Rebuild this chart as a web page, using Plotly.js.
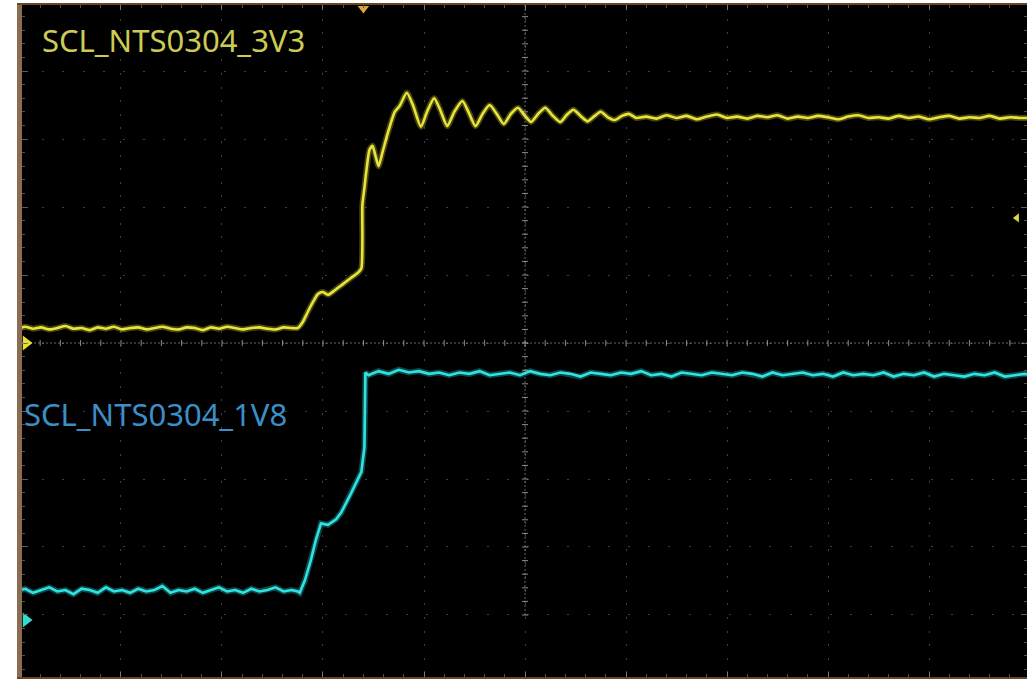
<!DOCTYPE html>
<html>
<head>
<meta charset="utf-8">
<script src="https://cdn.plot.ly/plotly-3.0.1.min.js"></script>
<style>
  html, body { margin: 0; padding: 0; background: #ffffff; }
  #chart { width: 1027px; height: 679px; }
</style>
</head>
<body>
<div id="chart"></div>
<script>
// ---- Data (time in ns, 100 ns/div; CH1 in V at 1 V/div; CH2 in V at 0.5 V/div) ----
const ch1Name = "SCL_NTS0304_3V3";
const ch2Name = "SCL_NTS0304_1V8";

const ch1Time = [
  -503,-495,-487,-479,-471,-463,-455,-447,-439,-431,-423,-415,-407,-399,-391,-383,-375,-367,
  -359,-351,-343,-335,-327,-319,-311,-303,-295,-287,-279,-271,-263,-255,-247,-239,-231,-225,
  -220,-215,-210,-205,-200,-195,-188,-180,-172,-165,-162,-161,-161,-159,-157,-154,-151,-148,
  -145,-141,-135,-129,-124,-117,-111,-103,-97,-90,-84,-77,-70,-62,-56,-49,-42,-35,-28,-21,
  -14,-7,0,6,13,20,27,35,41,48,55,62,69,75,82,89,96,103,110,
  120,130,140,150,160,170,180,190,200,210,220,230,240,250,260,270,280,290,300,310,320,330,
  340,350,360,370,380,390,400,410,420,430,440,450,460,470,480,490,502
];
const ch1Volts = [
  0.20,0.24,0.21,0.23,0.20,0.22,0.25,0.21,0.22,0.19,0.23,0.21,0.24,0.20,0.22,0.23,0.20,0.22,
  0.24,0.21,0.20,0.23,0.22,0.19,0.23,0.21,0.24,0.22,0.20,0.22,0.23,0.21,0.20,0.23,0.22,0.22,
  0.31,0.46,0.60,0.72,0.75,0.71,0.78,0.87,0.96,1.04,1.10,1.51,2.03,2.28,2.54,2.84,2.90,2.75,
  2.60,2.81,3.13,3.40,3.49,3.68,3.50,3.18,3.40,3.60,3.43,3.19,3.40,3.56,3.40,3.19,3.37,3.50,3.37,3.22,
  3.37,3.46,3.34,3.25,3.37,3.46,3.35,3.25,3.35,3.43,3.34,3.26,3.34,3.40,3.32,3.28,3.34,3.37,3.31,
  3.33,3.30,3.35,3.31,3.34,3.29,3.33,3.36,3.31,3.33,3.30,3.34,3.32,3.35,3.30,3.33,3.31,3.34,3.32,3.29,3.33,3.35,
  3.31,3.32,3.30,3.34,3.31,3.33,3.29,3.32,3.34,3.30,3.32,3.31,3.34,3.30,3.32,3.31,3.31
];

const ch2Time = [
  -503,-495,-487,-479,-471,-463,-455,-447,-439,-431,-423,-415,-407,-399,-391,-383,-375,-367,
  -359,-351,-343,-335,-327,-319,-311,-303,-295,-287,-279,-271,-263,-255,-247,-239,-231,-225,
  -223,-218,-212,-207,-202,-195,-187,-182,-173,-167,-162,-159,-158,
  -155,-145,-135,-125,-115,-105,-95,-85,-75,-65,-55,-45,-35,-25,-15,-5,5,15,25,35,45,55,65,75,
  85,95,105,115,125,135,145,155,165,175,185,195,205,215,225,235,245,255,265,275,285,295,305,
  315,325,335,345,355,365,375,385,395,405,415,425,435,445,455,465,475,485,495,502
];
const ch2Volts = [
  0.21,0.23,0.20,0.22,0.24,0.21,0.22,0.19,0.23,0.22,0.20,0.24,0.21,0.22,0.20,0.23,0.21,0.22,
  0.25,0.20,0.22,0.21,0.23,0.20,0.22,0.24,0.21,0.22,0.20,0.23,0.21,0.22,0.24,0.21,0.22,0.21,
  0.20,0.29,0.44,0.59,0.71,0.70,0.74,0.79,0.92,1.01,1.09,1.27,1.82,
  1.80,1.83,1.81,1.84,1.82,1.83,1.81,1.82,1.80,1.82,1.81,1.83,1.80,1.81,1.82,1.80,1.83,1.81,1.80,1.82,1.81,1.79,1.82,1.81,
  1.80,1.82,1.81,1.83,1.80,1.81,1.79,1.82,1.81,1.80,1.82,1.81,1.80,1.82,1.81,1.79,1.82,1.80,1.81,1.82,1.80,1.81,1.79,
  1.82,1.80,1.81,1.80,1.82,1.79,1.81,1.80,1.82,1.79,1.81,1.80,1.79,1.81,1.80,1.82,1.79,1.80,1.81,1.80
];

// Scope settings (markers)
const ch1Ground = 0;        // V
const ch2Ground = 0;        // V
const triggerLevel = 1.84;  // V on CH1
const triggerTime = -160;   // ns

// ---- Screen geometry (divisions) ----
const X_RANGE = [-498, 497];
const Y1_RANGE = [-4.912, 4.971];
const Y2_RANGE = [-0.419, 4.522];

const YELLOW = "#e9e43a";
const CYAN = "#2fe3e3";

const traces = [
  { x: ch1Time, y: ch1Volts, type: "scatter", mode: "lines", yaxis: "y",
    line: { color: "rgba(233,228,58,0.30)", width: 6, shape: "spline", smoothing: 0.6 }, hoverinfo: "skip", showlegend: false },
  { x: ch1Time, y: ch1Volts, type: "scatter", mode: "lines", yaxis: "y", name: ch1Name,
    line: { color: YELLOW, width: 2.6, shape: "spline", smoothing: 0.6 }, showlegend: false },
  { x: ch2Time, y: ch2Volts, type: "scatter", mode: "lines", yaxis: "y2",
    line: { color: "rgba(47,227,227,0.30)", width: 6 }, hoverinfo: "skip", showlegend: false },
  { x: ch2Time, y: ch2Volts, type: "scatter", mode: "lines", yaxis: "y2", name: ch2Name,
    line: { color: CYAN, width: 2.6 }, showlegend: false },
  // ground markers
  { x: [X_RANGE[0] + 4], y: [ch1Ground], yaxis: "y", mode: "markers", cliponaxis: false, showlegend: false,
    marker: { symbol: "triangle-right", size: 13, color: "#e6e030" }, hoverinfo: "skip" },
  { x: [X_RANGE[0] + 4], y: [ch2Ground], yaxis: "y2", mode: "markers", cliponaxis: false, showlegend: false,
    marker: { symbol: "triangle-right", size: 13, color: "#30dccf" }, hoverinfo: "skip" },
  // trigger level (right) and trigger position (top)
  { x: [X_RANGE[1] - 10], y: [triggerLevel], yaxis: "y", mode: "markers", cliponaxis: false, showlegend: false,
    marker: { symbol: "triangle-left", size: 8, color: "#d8d840" }, hoverinfo: "skip" },
  { x: [triggerTime], y: [Y1_RANGE[1] - 0.05], yaxis: "y", mode: "markers", cliponaxis: false, showlegend: false,
    marker: { symbol: "triangle-down", size: 10, color: "#e2a438" }, hoverinfo: "skip" }
];

// centre cross-hair with sub-division ticks
const shapes = [
  { type: "line", xref: "paper", x0: 0, x1: 1, yref: "y", y0: 0, y1: 0,
    line: { color: "rgba(200,200,200,0.5)", width: 1, dash: "2px,2px" } },
  { type: "line", xref: "x", x0: 0, x1: 0, yref: "y", y0: -4, y1: Y1_RANGE[1],
    line: { color: "rgba(200,200,200,0.5)", width: 1, dash: "2px,2px" } }
];
for (let i = -25; i <= 25; i++) {
  shapes.push({ type: "line", xref: "x", x0: i * 20, x1: i * 20, yref: "y", y0: -0.045, y1: 0.045,
    line: { color: "rgba(210,210,210,0.65)", width: 1 } });
}
for (let j = -20; j <= 24; j++) {
  shapes.push({ type: "line", xref: "x", x0: -3, x1: 3, yref: "y", y0: j * 0.2, y1: j * 0.2,
    line: { color: "rgba(210,210,210,0.65)", width: 1 } });
}

const layout = {
  width: 1027, height: 679,
  margin: { l: 22, r: 0, t: 5, b: 2, pad: 0 },
  paper_bgcolor: "#ffffff",
  plot_bgcolor: "#000000",
  showlegend: false,
  xaxis: {
    range: X_RANGE, tick0: 0, dtick: 100, showticklabels: false,
    showgrid: true, gridcolor: "rgba(140,140,140,0.45)", gridwidth: 1, griddash: "2px,11.6px",
    zeroline: false,
    showline: true, linecolor: "#6a4622", linewidth: 2, mirror: "ticks",
    ticks: "inside", ticklen: 5, tickcolor: "#777777",
    minor: { dtick: 20, ticks: "inside", ticklen: 3, tickcolor: "#555555" },
    fixedrange: true
  },
  yaxis: {
    range: Y1_RANGE, tick0: 0, dtick: 1, showticklabels: false,
    showgrid: true, gridcolor: "rgba(140,140,140,0.45)", gridwidth: 1, griddash: "2px,18.2px",
    zeroline: false,
    showline: true, linecolor: "#8a6c52", linewidth: 5, mirror: "ticks",
    ticks: "inside", ticklen: 6, tickcolor: "#6e5a48",
    minor: { dtick: 0.2, ticks: "inside", ticklen: 3, tickcolor: "#5e4c3c" },
    fixedrange: true
  },
  yaxis2: {
    range: Y2_RANGE, overlaying: "y", side: "right", showgrid: false, zeroline: false,
    showline: false, showticklabels: false, ticks: "", fixedrange: true
  },
  shapes: shapes,
  annotations: [
    { text: ch1Name, xref: "x", yref: "y", x: -480, y: 4.46, xanchor: "left", yanchor: "middle",
      showarrow: false, font: { family: "Noto Sans, Open Sans, sans-serif", size: 31, color: "#cccc55" } },
    { text: ch2Name, xref: "x", yref: "y", x: X_RANGE[0], y: -1.04, xanchor: "left", yanchor: "middle",
      showarrow: false, font: { family: "Noto Sans, Open Sans, sans-serif", size: 31, color: "#3b8fc6" } }
  ]
};

Plotly.newPlot("chart", traces, layout, { displayModeBar: false, staticPlot: true });
</script>
</body>
</html>
